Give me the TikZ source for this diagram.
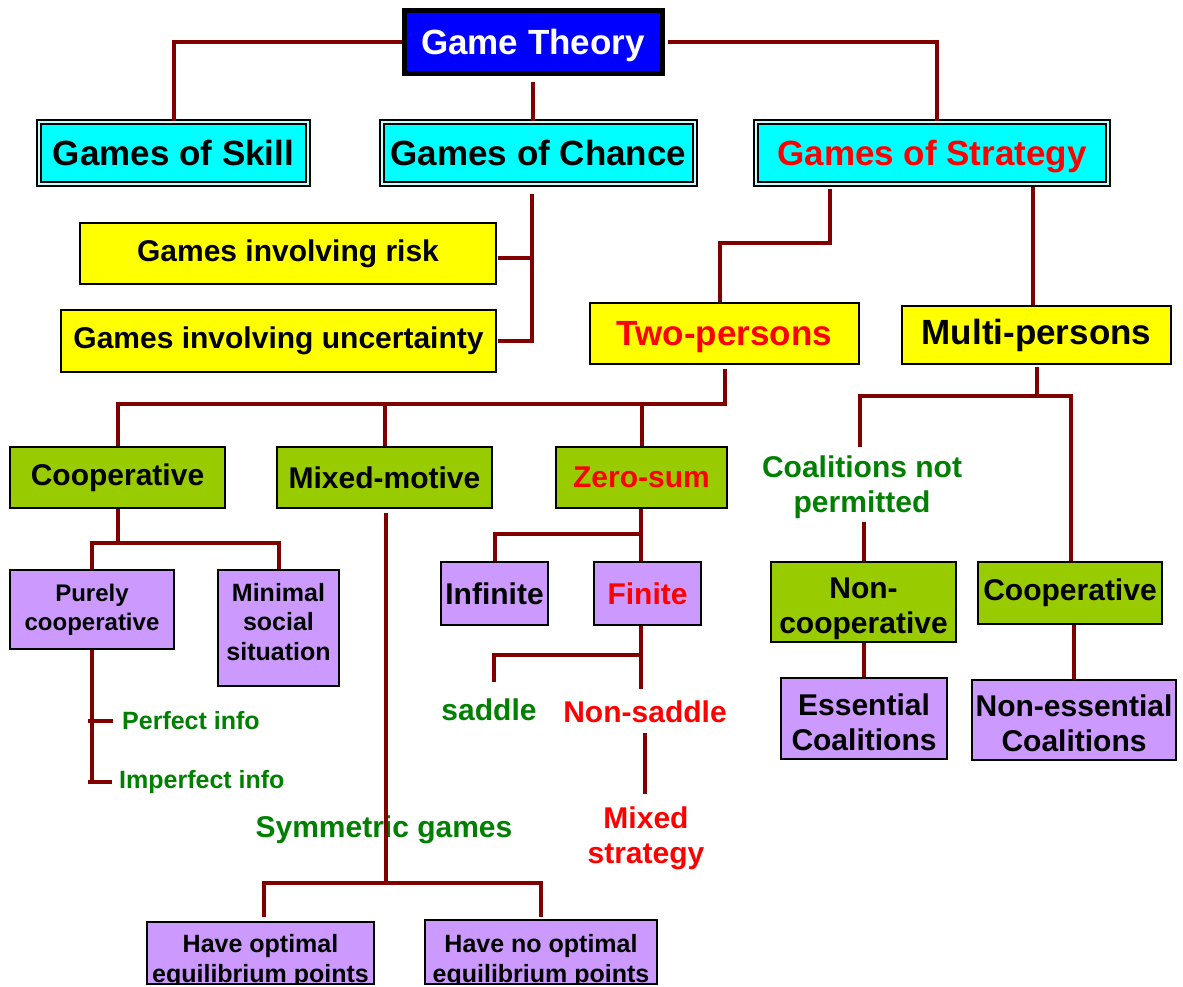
\documentclass[tikz,border=0pt]{standalone}
\usepackage{fontspec}
\setmainfont{Liberation Sans}
\definecolor{lred}{HTML}{800000}
\definecolor{cyanc}{HTML}{00FFFF}
\definecolor{yel}{HTML}{FFFF00}
\definecolor{grn}{HTML}{99CC00}
\definecolor{lav}{HTML}{CC99FF}
\definecolor{bl}{HTML}{0000FF}
\definecolor{tgreen}{HTML}{008000}
\definecolor{tred}{HTML}{FF0000}
\begin{document}
\begin{tikzpicture}[x=1pt,y=-1pt,
  conn/.style={draw=lred,line width=4pt},
  f35/.style={font={\bfseries\fontsize{35}{40}\selectfont}},
  f30/.style={font={\bfseries\fontsize{30}{35}\selectfont}},
  f25/.style={font={\bfseries\fontsize{25}{29.5}\selectfont}},
  f24/.style={font={\bfseries\fontsize{24}{29}\selectfont}},
  box/.style={draw=black,line width=1.5pt,inner sep=0pt,align=center,f30},
  cbox/.style={box,f35,fill=cyanc,line width=1.8pt,double=cyanc!25!white,double distance=1.8pt},
  ybox/.style={box,fill=yel},
  gbox/.style={box,fill=grn},
  pbox/.style={box,fill=lav},
  gtbox/.style={draw=black,line width=5pt,fill=bl,text=white,inner sep=0pt,f35},
  gtxt/.style={inner sep=3pt,align=center,f30,text=tgreen},
  rtxt/.style={inner sep=3pt,align=center,f30,text=tred},
  boxtext/.style n args={2}{path picture={\node[align=center,inner sep=0pt] at ([yshift=#1]path picture bounding box.center) {#2};}}]
\useasboundingbox (0,0) rectangle (1183,986);
\clip (0,0) rectangle (1183,986);
\fill[white] (0,0) rectangle (1183,986);

% nodes
\node[gtbox,text depth=0pt,minimum width=258pt,minimum height=63pt] (gt) at (533,41.5) {Game Theory};
\node[cbox,minimum width=269pt,minimum height=62pt] (skill) at (173.5,153) {Games of Skill};
\node[cbox,minimum width=313pt,minimum height=62pt] (chance) at (538.5,153) {Games of Chance};
\node[cbox,text=tred,text depth=0pt,minimum width=352pt,minimum height=62pt] (strat) at (932,153) {Games of Strategy};
\node[ybox,minimum width=416pt,minimum height=61pt] (risk) at (288,253.5) {Games involving risk};
\node[ybox,minimum width=435pt,minimum height=62pt] (unc) at (278.5,341) {Games involving uncertainty};
\node[ybox,f35,text=tred,text depth=0pt,minimum width=269pt,minimum height=61pt] (two) at (724.5,333.5) {Two-persons};
\node[ybox,f35,minimum width=269pt,minimum height=58pt] (multi) at (1036.5,335) {Multi-persons};
\node[gbox,minimum width=215pt,minimum height=61pt] (coop) at (117.5,477.5) {Cooperative};
\node[gbox,minimum width=215pt,minimum height=61pt] (mixed) at (384.5,477.5) {Mixed-motive};
\node[gbox,text=tred,minimum width=171pt,minimum height=61pt] (zero) at (641.5,477.5) {Zero-sum};
\node[gtxt] (coal) at (862,487.5) {Coalitions not\\permitted};
\node[gbox,minimum width=185pt,minimum height=80pt,boxtext={-7pt}{Non-\\cooperative}] (noncoop) at (863.5,602) {};
\node[gbox,minimum width=184pt,minimum height=62pt] (coop2) at (1070,593) {Cooperative};
\node[pbox,minimum width=166pt,minimum height=81pt,boxtext={-4pt}{Essential\\Coalitions}] (ess) at (864,718.5) {};
\node[pbox,minimum width=204pt,minimum height=80pt,boxtext={-3pt}{Non-essential\\Coalitions}] (ness) at (1074,720) {};
\node[pbox,f24,minimum width=164pt,minimum height=79pt] (pure) at (92,609.5) {Purely\\cooperative};
\node[pbox,f25,minimum width=121pt,minimum height=116pt,boxtext={6pt}{Minimal\\social\\situation}] (minimal) at (278.5,628) {};
\node[gtxt,f25,anchor=west,inner xsep=5pt] (perfect) at (117,721) {Perfect info};
\node[gtxt,f25,anchor=west,inner xsep=5pt] (imperfect) at (114,782) {Imperfect info};
\node[gtxt] (symm) at (384,830) {Symmetric games};
\node[pbox,f25,minimum width=227pt,minimum height=62pt,boxtext={-8pt}{Have optimal\\equilibrium points}] (hopt) at (260.5,953) {};
\node[pbox,f25,minimum width=232pt,minimum height=64pt,boxtext={-9pt}{Have no optimal\\equilibrium points}] (hnopt) at (541,952) {};
\node[pbox,minimum width=107pt,minimum height=63pt] (infinite) at (494.5,593.5) {Infinite};
\node[pbox,text=tred,minimum width=107pt,minimum height=63pt] (finite) at (647.5,593.5) {Finite};
\node[gtxt] (saddle) at (489,710) {saddle};
\node[rtxt] (nonsaddle) at (645,712) {Non-saddle};
\node[rtxt] (mixedstrat) at (646,838) {Mixed\\strategy};

% connectors
\draw[conn] (gt.west) -| (skill.north);
\draw[conn] ([yshift=-6pt]gt.south) -- (gt.south |- chance.north);
\coordinate (sn) at ([xshift=5pt]strat.north);
\draw[conn] ([xshift=3pt]gt.east) -| (sn);
\coordinate (cx) at ([xshift=-6.5pt,yshift=-9pt]chance.south);
\coordinate (ue) at ([xshift=1pt]unc.east);
\draw[conn] (cx) |- (ue);
\coordinate (re) at ([xshift=1pt,yshift=-4pt]risk.east);
\draw[conn] (re) -- (re -| cx);
\coordinate (tn) at ([xshift=-4.5pt]two.north);
\draw[conn] ([xshift=-102pt,yshift=-4pt]strat.south) -- ++(0,54) -| (tn);
\coordinate (sr) at ([xshift=101pt,yshift=-2pt]strat.south);
\draw[conn] (sr) -- (sr |- multi.north);
\draw[conn] ([yshift=-4pt]two.south) -- ++(0,35) coordinate (tj) -| (coop.north);
\draw[conn] (mixed.north) -- (mixed.north |- tj);
\draw[conn] (zero.north) -- (zero.north |- tj);
\draw[conn] ([yshift=-2pt]multi.south) -- ++(0,29) coordinate (mj);
\coordinate (cl) at ([xshift=-2pt,yshift=6pt]coal.north);
\coordinate (c2n) at ([xshift=1pt]coop2.north);
\draw[conn] (cl) |- (mj) -| (c2n);
\draw[conn] (coal.south -| noncoop.north) -- (noncoop.north);
\draw[conn] (noncoop.south) -- (noncoop.south |- ess.north);
\draw[conn] (ness.north) -- (ness.north |- coop2.south);
\draw[conn] (coop.south) -- ++(0,34) coordinate (cj2);
\draw[conn] (pure.north) |- (cj2) -| (minimal.north);
\coordinate (p1) at (pure.south |- perfect.west);
\coordinate (p2) at (pure.south |- imperfect.west);
\draw[conn] (pure.south) -- ([yshift=-2pt]p2);
\draw[conn] ([xshift=-4pt]p1) -- ([xshift=-4pt]perfect.west);
\draw[conn] ([xshift=-4pt]p2) -- ([xshift=-2pt]imperfect.west);
\draw[conn] ([xshift=1.5pt,yshift=-4pt]mixed.south) -- ++(0,370) coordinate (mxj);
\coordinate (ho) at ([xshift=3.5pt,yshift=4pt]hopt.north);
\coordinate (hn) at ([yshift=2pt]hnopt.north);
\draw[conn] (ho) |- (mxj) -| (hn);
\coordinate (zs) at ([xshift=-0.5pt]zero.south);
\draw[conn] (zs) -- (zs |- finite.north);
\coordinate (zj) at ([yshift=-25pt]zs);
\draw[conn] (infinite.north) |- (zj);
\coordinate (fs) at (finite.south -| zs);
\draw[conn] (fs) -- ++(0,63);
\coordinate (fj) at ([yshift=-29pt]fs);
\coordinate (sd) at (494,682);
\draw[conn] (fj) -| (sd);
\coordinate (ns) at ([yshift=-7pt]nonsaddle.south);
\draw[conn] (ns) -- ++(0,61);
\end{tikzpicture}
\end{document}
